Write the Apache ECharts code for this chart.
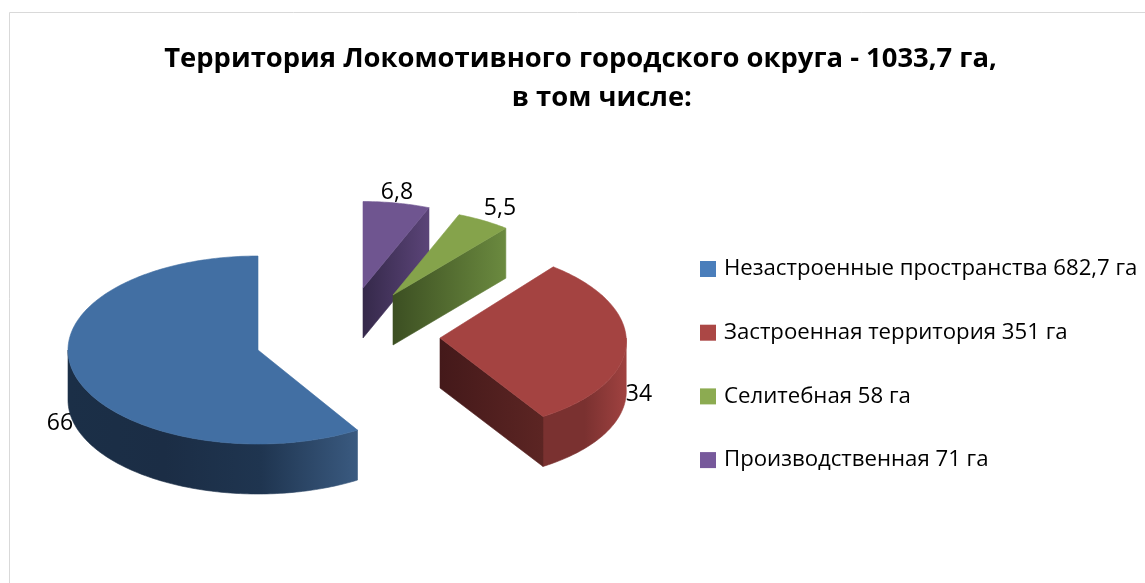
<!DOCTYPE html>
<html>
<head>
<meta charset="utf-8">
<title>Территория Локомотивного городского округа</title>
<script src="https://cdn.jsdelivr.net/npm/echarts@6/dist/echarts.min.js"></script>
<style>
html, body { margin: 0; padding: 0; background: #fff; }
#chart { width: 1145px; height: 583px; }
</style>
</head>
<body>
<div id="chart"></div>
<script>
var title_text = 'Территория Локомотивного городского округа - 1033,7 га,\n      в том числе:';

// data
var slice_names = ['Незастроенные пространства 682,7 га', 'Застроенная территория 351 га', 'Селитебная 58 га', 'Производственная 71 га'];
var slice_values = [66, 34, 5.5, 6.8];

// look of each slice
var top_colors = ['#426fa3', '#a44341', '#85a34b', '#6f5590'];
var legend_colors = ['#4a7ebb', '#ab4745', '#8cab51', '#77599b'];
var wall_colors = [
    ['#1b2f47', '#1b2d45', '#1f3550', '#3a5a80'],
    ['#7a3130', '#7a3130', '#a04240'],
    ['#3c4f22', '#4f682d', '#6b8a3f'],
    ['#35294a', '#43345c', '#5b4478']
];
var side_colors = [
    ['#1b2f47', '#1b2f47'],
    ['#44191a', '#5c2523'],
    ['#3c4f22', '#6b8a3f'],
    ['#35294a', '#5b4478']
];

// layout of the exploded pie
var apex = [[258, 350], [440, 338], [393, 295], [363, 288]];
var rx_scale = [1, 0.98, 0.935, 0.935];
var ry_scale = [1, 0.98, 0.92, 0.92];
var shear = [0, 0.07, 0, 0];
var pie_rx = 190;
var pie_ry = 94;
var pie_depth = 50;
var label_pos = [[60, 423], [639, 394], [500, 208], [397, 192]];
var draw_order = [1, 4, 3, 2];

var total = slice_values.reduce(function(a, b){ return a + b; }, 0);

function slice_angles(){
    var res = [];
    var end = 360;
    slice_values.forEach(function(v){
        var start = end - v / total * 360;
        res.push([start, end]);
        end = start;
    });
    return res;
}
var angles = slice_angles();

function point(i, deg, dy){
    var r = deg * Math.PI / 180;
    var off_y = -pie_ry * ry_scale[i] * Math.cos(r);
    return [
        apex[i][0] + pie_rx * rx_scale[i] * Math.sin(r) + shear[i] * off_y,
        apex[i][1] + off_y + (dy || 0)
    ];
}

function arc_points(i, from, to, dy){
    var pts = [];
    var n = Math.max(2, Math.ceil(Math.abs(to - from)));
    for (var k = 0; k <= n; k++)
        pts.push(point(i, from + (to - from) * k / n, dy));
    return pts;
}

function gradient(stops){
    var list = stops.map(function(c, k){
        return { offset: k / (stops.length - 1), color: c };
    });
    return new echarts.graphic.LinearGradient(0, 0, 1, 0, list);
}

function polygon(pts, fill){
    return {
        type: 'polygon',
        shape: { points: pts },
        style: { fill: fill, stroke: fill, lineWidth: 0.6 }
    };
}

function render_slice(i, value){
    var start = angles[i][0];
    var end = angles[i][1];
    var children = [];

    // the data label sits under the slice, as in the original
    children.push({
        type: 'text',
        style: {
            text: String(value).replace('.', ','),
            x: label_pos[i][0],
            y: label_pos[i][1],
            align: 'center',
            verticalAlign: 'middle',
            fill: '#000',
            font: '23px "Open Sans", "Noto Sans", sans-serif'
        }
    });

    // outer wall, only the part turned to the viewer
    var from = Math.max(start, 90);
    var to = Math.min(end, 270);
    if (to > from){
        var upper = arc_points(i, from, to);
        var lower = arc_points(i, to, from, pie_depth);
        children.push(polygon(upper.concat(lower), gradient(wall_colors[i])));
    }

    // radial wall on the clockwise side
    if (Math.cos((end + 90) * Math.PI / 180) < -0.001){
        var p = point(i, end);
        var q = point(i, end, pie_depth);
        var a = apex[i];
        children.push(polygon([a, p, q, [a[0], a[1] + pie_depth]], gradient(side_colors[i])));
    }

    // top face
    var face = arc_points(i, start, end);
    face.push(apex[i]);
    children.push(polygon(face, top_colors[i]));

    return { type: 'group', children: children };
}

var series = slice_names.map(function(name, i){
    return {
        type: 'custom',
        name: name,
        coordinateSystem: 'none',
        z: draw_order[i] + 1,
        silent: true,
        itemStyle: { color: legend_colors[i] },
        data: [[slice_values[i]]],
        renderItem: function(params, api){
            return render_slice(i, api.value(0));
        }
    };
});

var chart = echarts.init(document.getElementById('chart'));
chart.setOption({
    animation: false,
    backgroundColor: '#fff',
    title: {
        text: title_text,
        left: 575.5,
        top: 35,
        textAlign: 'center',
        textStyle: {
            fontFamily: '"Open Sans", "Noto Sans", sans-serif',
            fontSize: 27.4,
            fontWeight: 'bold',
            lineHeight: 39,
            color: '#000'
        }
    },
    legend: {
        orient: 'vertical',
        left: 695,
        top: 253,
        itemWidth: 16,
        itemHeight: 16,
        itemGap: 41.7,
        icon: 'rect',
        data: slice_names,
        selectedMode: false,
        textStyle: {
            fontFamily: '"Open Sans", "Noto Sans", sans-serif',
            fontSize: 22.2,
            lineHeight: 16,
            color: '#000',
            padding: [0, 0, 0, 3]
        }
    },
    graphic: [{
        type: 'rect',
        z: 0,
        silent: true,
        shape: { x: 9.5, y: 12.5, width: 1200, height: 620 },
        style: { fill: 'none', stroke: '#d9d9d9', lineWidth: 1 }
    }],
    series: series
});
</script>
</body>
</html>
